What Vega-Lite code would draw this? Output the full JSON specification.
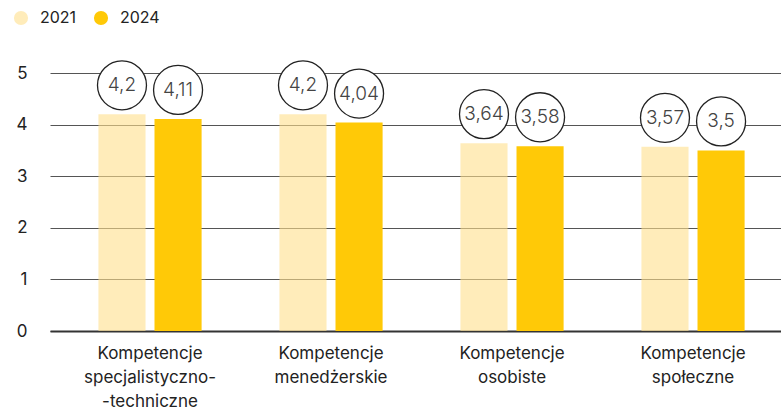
{
  "$schema": "https://vega.github.io/schema/vega-lite/v6.json",
  "width": 731,
  "height": 258,
  "autosize": {"type": "none"},
  "padding": {"left": 50, "top": 73, "right": 0, "bottom": 79},
  "background": "white",
  "config": {
    "view": {"stroke": null},
    "font": "Inter"
  },
  "data": {
    "values": [
      {"kategoria": "Kompetencje|specjalistyczno-|-techniczne", "rok": "2021", "wartosc": 4.2, "etykieta": "4,2"},
      {"kategoria": "Kompetencje|specjalistyczno-|-techniczne", "rok": "2024", "wartosc": 4.11, "etykieta": "4,11"},
      {"kategoria": "Kompetencje|menedżerskie", "rok": "2021", "wartosc": 4.2, "etykieta": "4,2"},
      {"kategoria": "Kompetencje|menedżerskie", "rok": "2024", "wartosc": 4.04, "etykieta": "4,04"},
      {"kategoria": "Kompetencje|osobiste", "rok": "2021", "wartosc": 3.64, "etykieta": "3,64"},
      {"kategoria": "Kompetencje|osobiste", "rok": "2024", "wartosc": 3.58, "etykieta": "3,58"},
      {"kategoria": "Kompetencje|społeczne", "rok": "2021", "wartosc": 3.57, "etykieta": "3,57"},
      {"kategoria": "Kompetencje|społeczne", "rok": "2024", "wartosc": 3.5, "etykieta": "3,5"}
    ]
  },
  "encoding": {
    "x": {
      "field": "kategoria",
      "type": "nominal",
      "sort": null,
      "scale": {"paddingInner": 0.43, "paddingOuter": 0.2343, "align": 0.571},
      "axis": {
        "title": null,
        "labelAngle": 0,
        "labelExpr": "split(datum.label, '|')",
        "labelFontSize": 17,
        "labelColor": "#222222",
        "labelLineHeight": 24,
        "labelPadding": 14,
        "ticks": false,
        "domainColor": "#333333",
        "domainWidth": 2,
        "labelFont": "Inter"
      }
    },
    "xOffset": {
      "field": "rok",
      "type": "nominal",
      "scale": {"paddingInner": 0.16, "paddingOuter": 0}
    },
    "y": {
      "field": "wartosc",
      "type": "quantitative",
      "scale": {"domain": [0, 5]},
      "axis": {
        "title": null,
        "values": [0, 1, 2, 3, 4, 5],
        "domain": false,
        "ticks": false,
        "labelFontSize": 17,
        "labelColor": "#222222",
        "labelPadding": 23,
        "gridColor": "#555555",
        "gridWidth": 1,
        "labelFont": "Inter"
      }
    }
  },
  "layer": [
    {
      "mark": {"type": "bar"},
      "encoding": {
        "color": {
          "field": "rok",
          "type": "nominal",
          "scale": {"domain": ["2021", "2024"], "range": ["#FFE08C", "#FFC907"]},
          "legend": {
            "title": null,
            "orient": "none",
            "legendX": -37,
            "legendY": -63,
            "direction": "horizontal",
            "symbolType": "circle",
            "symbolSize": 200,
            "symbolOpacity": 1,
            "labelFontSize": 16,
            "labelColor": "#222222",
            "labelOffset": 11,
            "columnPadding": 16,
            "labelFont": "Inter"
          }
        },
        "opacity": {
          "field": "rok",
          "type": "nominal",
          "scale": {"domain": ["2021", "2024"], "range": [0.6, 1]},
          "legend": null
        }
      }
    },
    {
      "mark": {"type": "point", "shape": "circle", "size": 2400, "filled": false, "fill": "white", "fillOpacity": 1, "stroke": "#222222", "strokeWidth": 1.3, "opacity": 1, "yOffset": -29}
    },
    {
      "mark": {"type": "text", "fontSize": 19, "color": "#444444", "fontWeight": 300, "dy": -29, "font": "Inter"},
      "encoding": {"text": {"field": "etykieta"}}
    }
  ]
}
